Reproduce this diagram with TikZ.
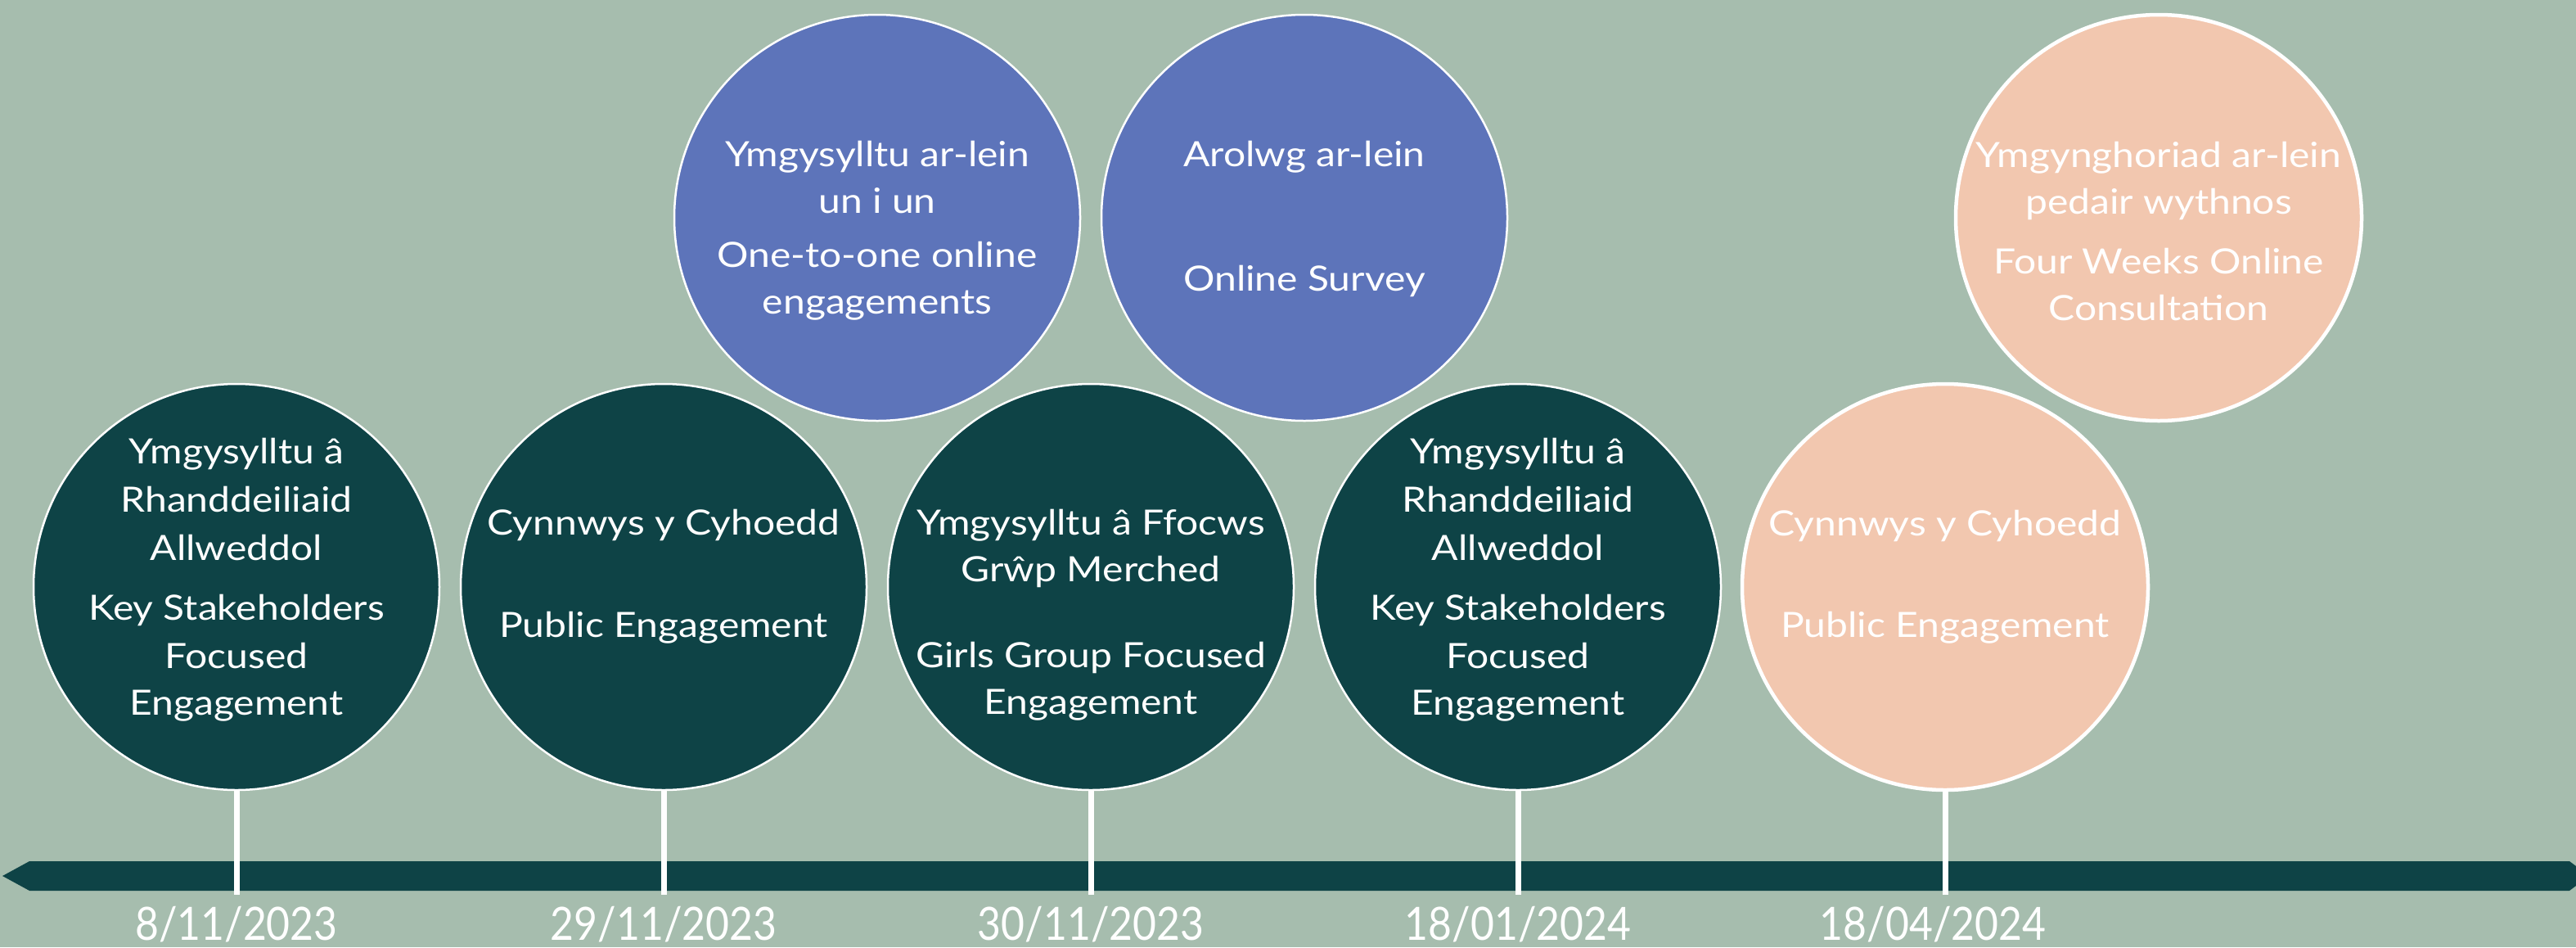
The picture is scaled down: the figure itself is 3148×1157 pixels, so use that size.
\documentclass[tikz,border=0pt]{standalone}
\usepackage{fontspec}
\setmainfont{Lato}
\newfontfamily\labelfont{Lato}[FakeStretch=1.13]
\newfontfamily\datefont{Lato}[FakeStretch=0.89]
\definecolor{bgc}{HTML}{A6BDAE}
\definecolor{darkteal}{HTML}{0E4346}
\definecolor{bluec}{HTML}{5D74BA}
\definecolor{peach}{HTML}{F2C7AF}
\tikzset{
  bubble/.style={circle, minimum size=496pt, inner sep=0pt, draw=white, line width=2.5pt},
  darkb/.style={bubble, fill=darkteal},
  blueb/.style={bubble, fill=bluec},
  peachb/.style={bubble, fill=peach, line width=4.5pt},
  lbl/.style={text=white, anchor=base, inner sep=0pt, font=\labelfont\fontsize{42.5}{50}\selectfont},
  datelbl/.style={text=white, anchor=base, inner sep=0pt, font=\datefont\fontsize{56}{60}\selectfont},
  stemline/.style={draw=white, line width=7pt}
}
\begin{document}
\begin{tikzpicture}[x=1pt,y=-1pt]
\fill[bgc] (0,0) rectangle (3148,1157);
\useasboundingbox (0,0) rectangle (3148,1157);
% timeline bar
\fill[darkteal] (3,1070) -- (36,1052) -- (3140,1052) -- (3148,1058) -- (3148,1082) -- (3140,1088) -- (36,1088) -- cycle;
% circles
\node[darkb]  (c1) at (289,717) {};
\node[darkb]  (c2) at (811,717) {};
\node[blueb]  (c3) at (1072,266) {};
\node[darkb]  (c4) at (1333,717) {};
\node[blueb]  (c5) at (1594,266) {};
\node[darkb]  (c6) at (1855,717) {};
\node[peachb] (c7) at (2377,717) {};
\node[peachb] (c8) at (2638,266) {};
% stem ends
\coordinate (t1) at (289,1093);
\coordinate (t2) at (811,1093);
\coordinate (t4) at (1333,1093);
\coordinate (t6) at (1855,1093);
\coordinate (t7) at (2377,1093);
\draw[stemline] (c1.south) -- (t1);
\draw[stemline] (c2.south) -- (t2);
\draw[stemline] (c4.south) -- (t4);
\draw[stemline] (c6.south) -- (t6);
\draw[stemline] (c7.south) -- (t7);
% circle 1
\node[lbl] (c1l1) at (289,566) {Ymgysylltu â};
\node[lbl] (c1l2) at (289,625) {Rhanddeiliaid};
\node[lbl] (c1l3) at (289,684) {Allweddol};
\node[lbl] (c1l4) at (289,757) {Key Stakeholders};
\node[lbl] (c1l5) at (289,816) {Focused};
\node[lbl] (c1l6) at (289,873) {Engagement};
% circle 2
\node[lbl] (c2l1) at (811,653) {Cynnwys y Cyhoedd};
\node[lbl] (c2l2) at (811,778) {Public Engagement};
% circle 3
\node[lbl] (c3l1) at (1072,203) {Ymgysylltu ar-lein};
\node[lbl] (c3l2) at (1072,260) {un i un};
\node[lbl] (c3l3) at (1072,326) {One-to-one online};
\node[lbl] (c3l4) at (1072,383) {engagements};
% circle 4
\node[lbl] (c4l1) at (1333,653) {Ymgysylltu â Ffocws};
\node[lbl] (c4l2) at (1333,710) {Grŵp Merched};
\node[lbl] (c4l3) at (1333,815) {Girls Group Focused};
\node[lbl] (c4l4) at (1333,872) {Engagement};
% circle 5
\node[lbl] (c5l1) at (1594,203) {Arolwg ar-lein};
\node[lbl] (c5l2) at (1594,355) {Online Survey};
% circle 6
\node[lbl] (c6l1) at (1855,566) {Ymgysylltu â};
\node[lbl] (c6l2) at (1855,625) {Rhanddeiliaid};
\node[lbl] (c6l3) at (1855,684) {Allweddol};
\node[lbl] (c6l4) at (1855,757) {Key Stakeholders};
\node[lbl] (c6l5) at (1855,816) {Focused};
\node[lbl] (c6l6) at (1855,873) {Engagement};
% circle 7
\node[lbl] (c7l1) at (2377,654) {Cynnwys y Cyhoedd};
\node[lbl] (c7l2) at (2377,778) {Public Engagement};
% circle 8
\node[lbl] (c8l1) at (2638,204) {Ymgynghoriad ar-lein};
\node[lbl] (c8l2) at (2638,261) {pedair wythnos};
\node[lbl] (c8l3) at (2638,334) {Four Weeks Online};
\node[lbl] (c8l4) at (2638,391) {Consultation};
% dates
\node[datelbl] (d1) at (289,1148) {8/11/2023};
\node[datelbl] (d2) at (811,1148) {29/11/2023};
\node[datelbl] (d3) at (1333,1148) {30/11/2023};
\node[datelbl] (d4) at (1855,1148) {18/01/2024};
\node[datelbl] (d5) at (2362,1148) {18/04/2024};
\end{tikzpicture}
\end{document}
